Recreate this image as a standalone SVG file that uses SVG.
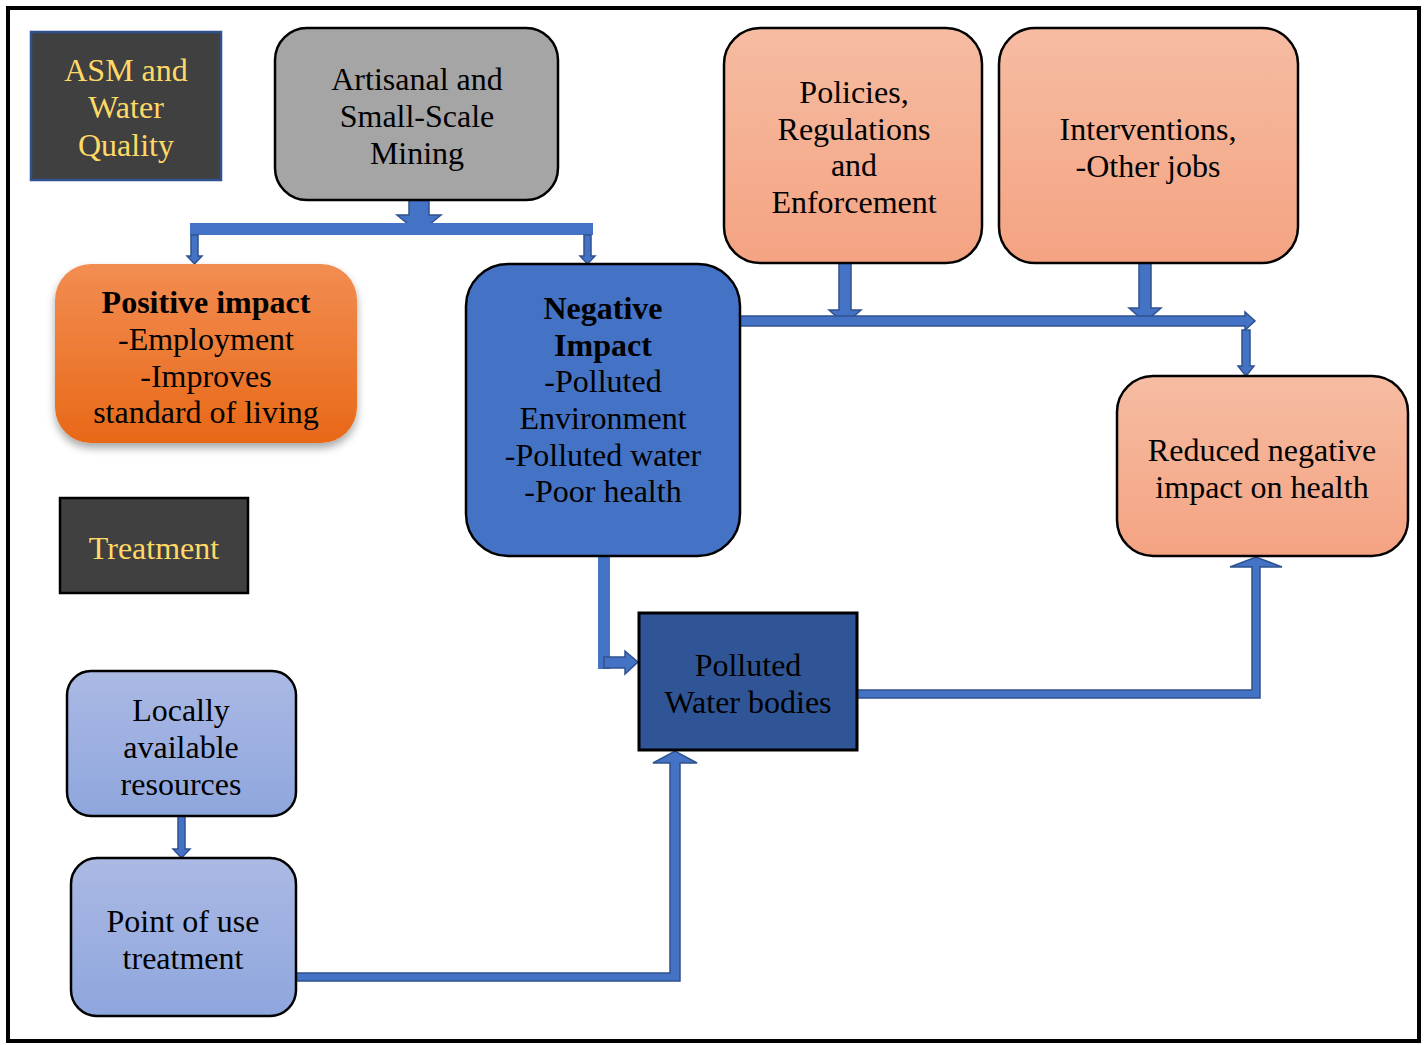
<svg xmlns="http://www.w3.org/2000/svg" width="1426" height="1045" viewBox="0 0 1426 1045">
<style>
text{font-family:"Liberation Serif","Times New Roman","DejaVu Serif",serif;font-size:32px;text-anchor:middle;fill:#000}
.gold{fill:#ffd966}
.b{font-weight:bold}
.arr{fill:#4472c4;stroke:#2f528f;stroke-width:1.5}
.bar{fill:#4472c4}
.nb{stroke:#000;stroke-width:2.5}
</style>
<defs>
<linearGradient id="gOr" x1="0" y1="0" x2="0" y2="1"><stop offset="0" stop-color="#f28d52"/><stop offset="1" stop-color="#e86817"/></linearGradient>
<linearGradient id="gSal" x1="0" y1="0" x2="0" y2="1"><stop offset="0" stop-color="#f6bca2"/><stop offset="1" stop-color="#f4a382"/></linearGradient>
<linearGradient id="gLb" x1="0" y1="0" x2="0" y2="1"><stop offset="0" stop-color="#abb9e4"/><stop offset="1" stop-color="#8ea6dd"/></linearGradient>
<filter id="sh" x="-10%" y="-10%" width="130%" height="130%"><feDropShadow dx="0" dy="5" stdDeviation="4" flood-color="#000" flood-opacity="0.35"/></filter>
</defs>
<rect width="1426" height="1045" fill="#fff"/>
<rect x="8" y="8" width="1411" height="1033" fill="none" stroke="#000" stroke-width="4"/>

<g id="connectors">
<polygon class="arr" points="409,200 429,200 429,215 441,215 419,233 397,215 409,215"/>
<rect class="bar" x="190" y="223" width="403" height="12"/>
<polygon class="arr" points="191,235 198,235 198,256 202,256 194.5,264 187,256 191,256"/>
<polygon class="arr" points="584,235 591,235 591,256 595,256 587.5,264 580,256 584,256"/>
<polygon class="arr" points="839,263 851,263 851,310 861,310 845,324 829,310 839,310"/>
<polygon class="arr" points="1139,263 1151,263 1151,308 1161,308 1145,322 1129,308 1139,308"/>
<polygon class="arr" points="740,316 1245,316 1245,312 1255,321 1245,330 1245,326 740,326"/>
<polygon class="arr" points="1242,330 1250,330 1250,366 1254,366 1246,376 1238,366 1242,366"/>
<rect class="bar" x="598" y="556" width="12" height="113"/>
<polygon class="arr" points="604,657 625,657 625,651 638,662 625,674 625,668 604,668"/>
<polygon class="arr" points="857,690 1252,690 1252,567 1230,567 1256,557 1282,567 1260,567 1260,698 857,698"/>
<polygon class="arr" points="296,973 670,973 670,763 653,763 675,751 697,763 680,763 680,981 296,981"/>
<polygon class="arr" points="178,816 185,816 185,849 190,849 181.5,858 173,849 178,849"/>
</g>

<g id="asm">
<rect x="31" y="32" width="190" height="148" fill="#404040" stroke="#2f528f" stroke-width="2.5"/>
<text class="gold" x="126" y="81">ASM and</text>
<text class="gold" x="126" y="118">Water</text>
<text class="gold" x="126" y="156">Quality</text>
</g>

<g id="mining">
<rect class="nb" x="275" y="28" width="283" height="172" rx="32" fill="#a5a5a5"/>
<text x="417" y="90">Artisanal and</text>
<text x="417" y="127">Small-Scale</text>
<text x="417" y="164">Mining</text>
</g>

<g id="positive">
<rect x="55" y="264" width="302" height="179" rx="36" fill="url(#gOr)" filter="url(#sh)"/>
<text class="b" x="206" y="313">Positive impact</text>
<text x="206" y="350">-Employment</text>
<text x="206" y="387">-Improves</text>
<text x="206" y="423">standard of living</text>
</g>

<g id="negative">
<rect class="nb" x="466" y="264" width="274" height="292" rx="42" fill="#4472c4"/>
<text class="b" x="603" y="319">Negative</text>
<text class="b" x="603" y="356">Impact</text>
<text x="603" y="392">-Polluted</text>
<text x="603" y="429">Environment</text>
<text x="603" y="466">-Polluted water</text>
<text x="603" y="502">-Poor health</text>
</g>

<g id="policies">
<rect class="nb" x="724" y="28" width="258" height="235" rx="36" fill="url(#gSal)"/>
<text x="854" y="103">Policies,</text>
<text x="854" y="140">Regulations</text>
<text x="854" y="176">and</text>
<text x="854" y="213">Enforcement</text>
</g>

<g id="interventions">
<rect class="nb" x="999" y="28" width="299" height="235" rx="36" fill="url(#gSal)"/>
<text x="1148" y="140">Interventions,</text>
<text x="1148" y="177">-Other jobs</text>
</g>

<g id="reduced">
<rect class="nb" x="1117" y="376" width="291" height="180" rx="36" fill="url(#gSal)"/>
<text x="1262" y="461">Reduced negative</text>
<text x="1262" y="498">impact on health</text>
</g>

<g id="treatment">
<rect x="60" y="498" width="188" height="95" fill="#404040" stroke="#000" stroke-width="2.5"/>
<text class="gold" x="154" y="559">Treatment</text>
</g>

<g id="polluted">
<rect x="639" y="613" width="218" height="137" fill="#2f5597" stroke="#000" stroke-width="3"/>
<text x="748" y="676">Polluted</text>
<text x="748" y="713">Water bodies</text>
</g>

<g id="locally">
<rect class="nb" x="67" y="671" width="229" height="145" rx="24" fill="url(#gLb)"/>
<text x="181" y="721">Locally</text>
<text x="181" y="758">available</text>
<text x="181" y="795">resources</text>
</g>

<g id="pointofuse">
<rect class="nb" x="71" y="858" width="225" height="158" rx="26" fill="url(#gLb)"/>
<text x="183" y="932">Point of use</text>
<text x="183" y="969">treatment</text>
</g>
</svg>
